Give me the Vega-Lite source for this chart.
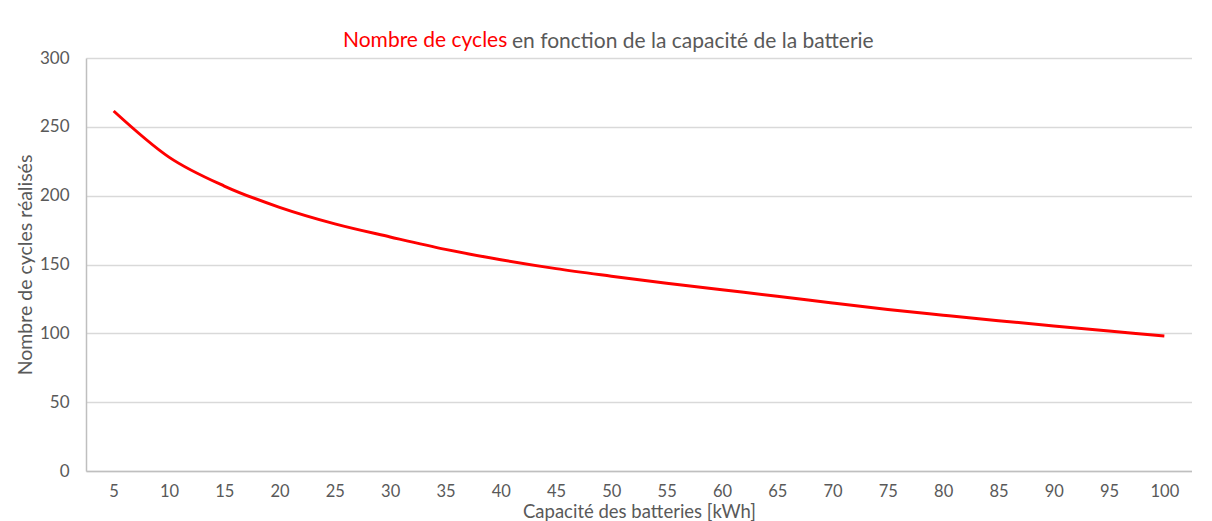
{
  "$schema": "https://vega.github.io/schema/vega-lite/v6.json",
  "background": "white",
  "padding": {"left": 15, "top": 30, "right": 0, "bottom": 0},
  "title": {
    "text": "en fonction de la capacité de la batterie",
    "color": "#595959",
    "font": "Lato",
    "fontSize": 21,
    "fontWeight": "normal",
    "anchor": "start",
    "frame": "group",
    "dx": 426,
    "offset": -22
  },
  "vconcat": [
    {
      "title": {
        "text": "Nombre de cycles",
        "color": "#ff0000",
        "font": "Lato",
        "fontSize": 21,
        "fontWeight": "normal",
        "anchor": "start",
        "frame": "group",
        "dx": 257,
        "offset": -2
      },
      "width": 1106,
      "height": 413,
      "data": {
        "values": [
          {"capacite": 5, "cycles": 261.5},
          {"capacite": 10, "cycles": 228},
          {"capacite": 15, "cycles": 207},
          {"capacite": 20, "cycles": 191.5},
          {"capacite": 25, "cycles": 179.5},
          {"capacite": 30, "cycles": 170},
          {"capacite": 35, "cycles": 161},
          {"capacite": 40, "cycles": 153.5},
          {"capacite": 45, "cycles": 147},
          {"capacite": 50, "cycles": 141.5},
          {"capacite": 55, "cycles": 136.3},
          {"capacite": 60, "cycles": 131.6},
          {"capacite": 65, "cycles": 127},
          {"capacite": 70, "cycles": 122},
          {"capacite": 75, "cycles": 117.3},
          {"capacite": 80, "cycles": 113.2},
          {"capacite": 85, "cycles": 109.2},
          {"capacite": 90, "cycles": 105.4},
          {"capacite": 95, "cycles": 101.7},
          {"capacite": 100, "cycles": 98}
        ]
      },
      "mark": {"type": "line", "color": "#ff0000", "strokeWidth": 3, "interpolate": "monotone"},
      "encoding": {
        "x": {
          "field": "capacite",
          "type": "ordinal",
          "scale": {"paddingInner": 0, "paddingOuter": 0},
          "axis": {
            "title": "Capacité des batteries [kWh]",
            "titleFontSize": 18.5,
            "labelFontSize": 16.5,
            "labelAngle": 0,
            "ticks": false,
            "labelPadding": 12,
            "titlePadding": 3,
            "grid": false
          }
        },
        "y": {
          "field": "cycles",
          "type": "quantitative",
          "scale": {"domain": [0, 300], "nice": false},
          "axis": {
            "title": "Nombre de cycles réalisés",
            "values": [0, 50, 100, 150, 200, 250, 300],
            "ticks": false,
            "labelPadding": 17,
            "titlePadding": 4,
            "grid": true
          }
        }
      }
    }
  ],
  "config": {
    "view": {"stroke": null},
    "axis": {
      "labelFont": "Lato",
      "labelFontSize": 17,
      "labelColor": "#595959",
      "titleFont": "Lato",
      "titleFontSize": 19.5,
      "titleFontWeight": "normal",
      "titleColor": "#595959",
      "domainColor": "#bfbfbf",
      "domainWidth": 1.5,
      "gridColor": "#d9d9d9",
      "gridWidth": 1.5
    }
  }
}
